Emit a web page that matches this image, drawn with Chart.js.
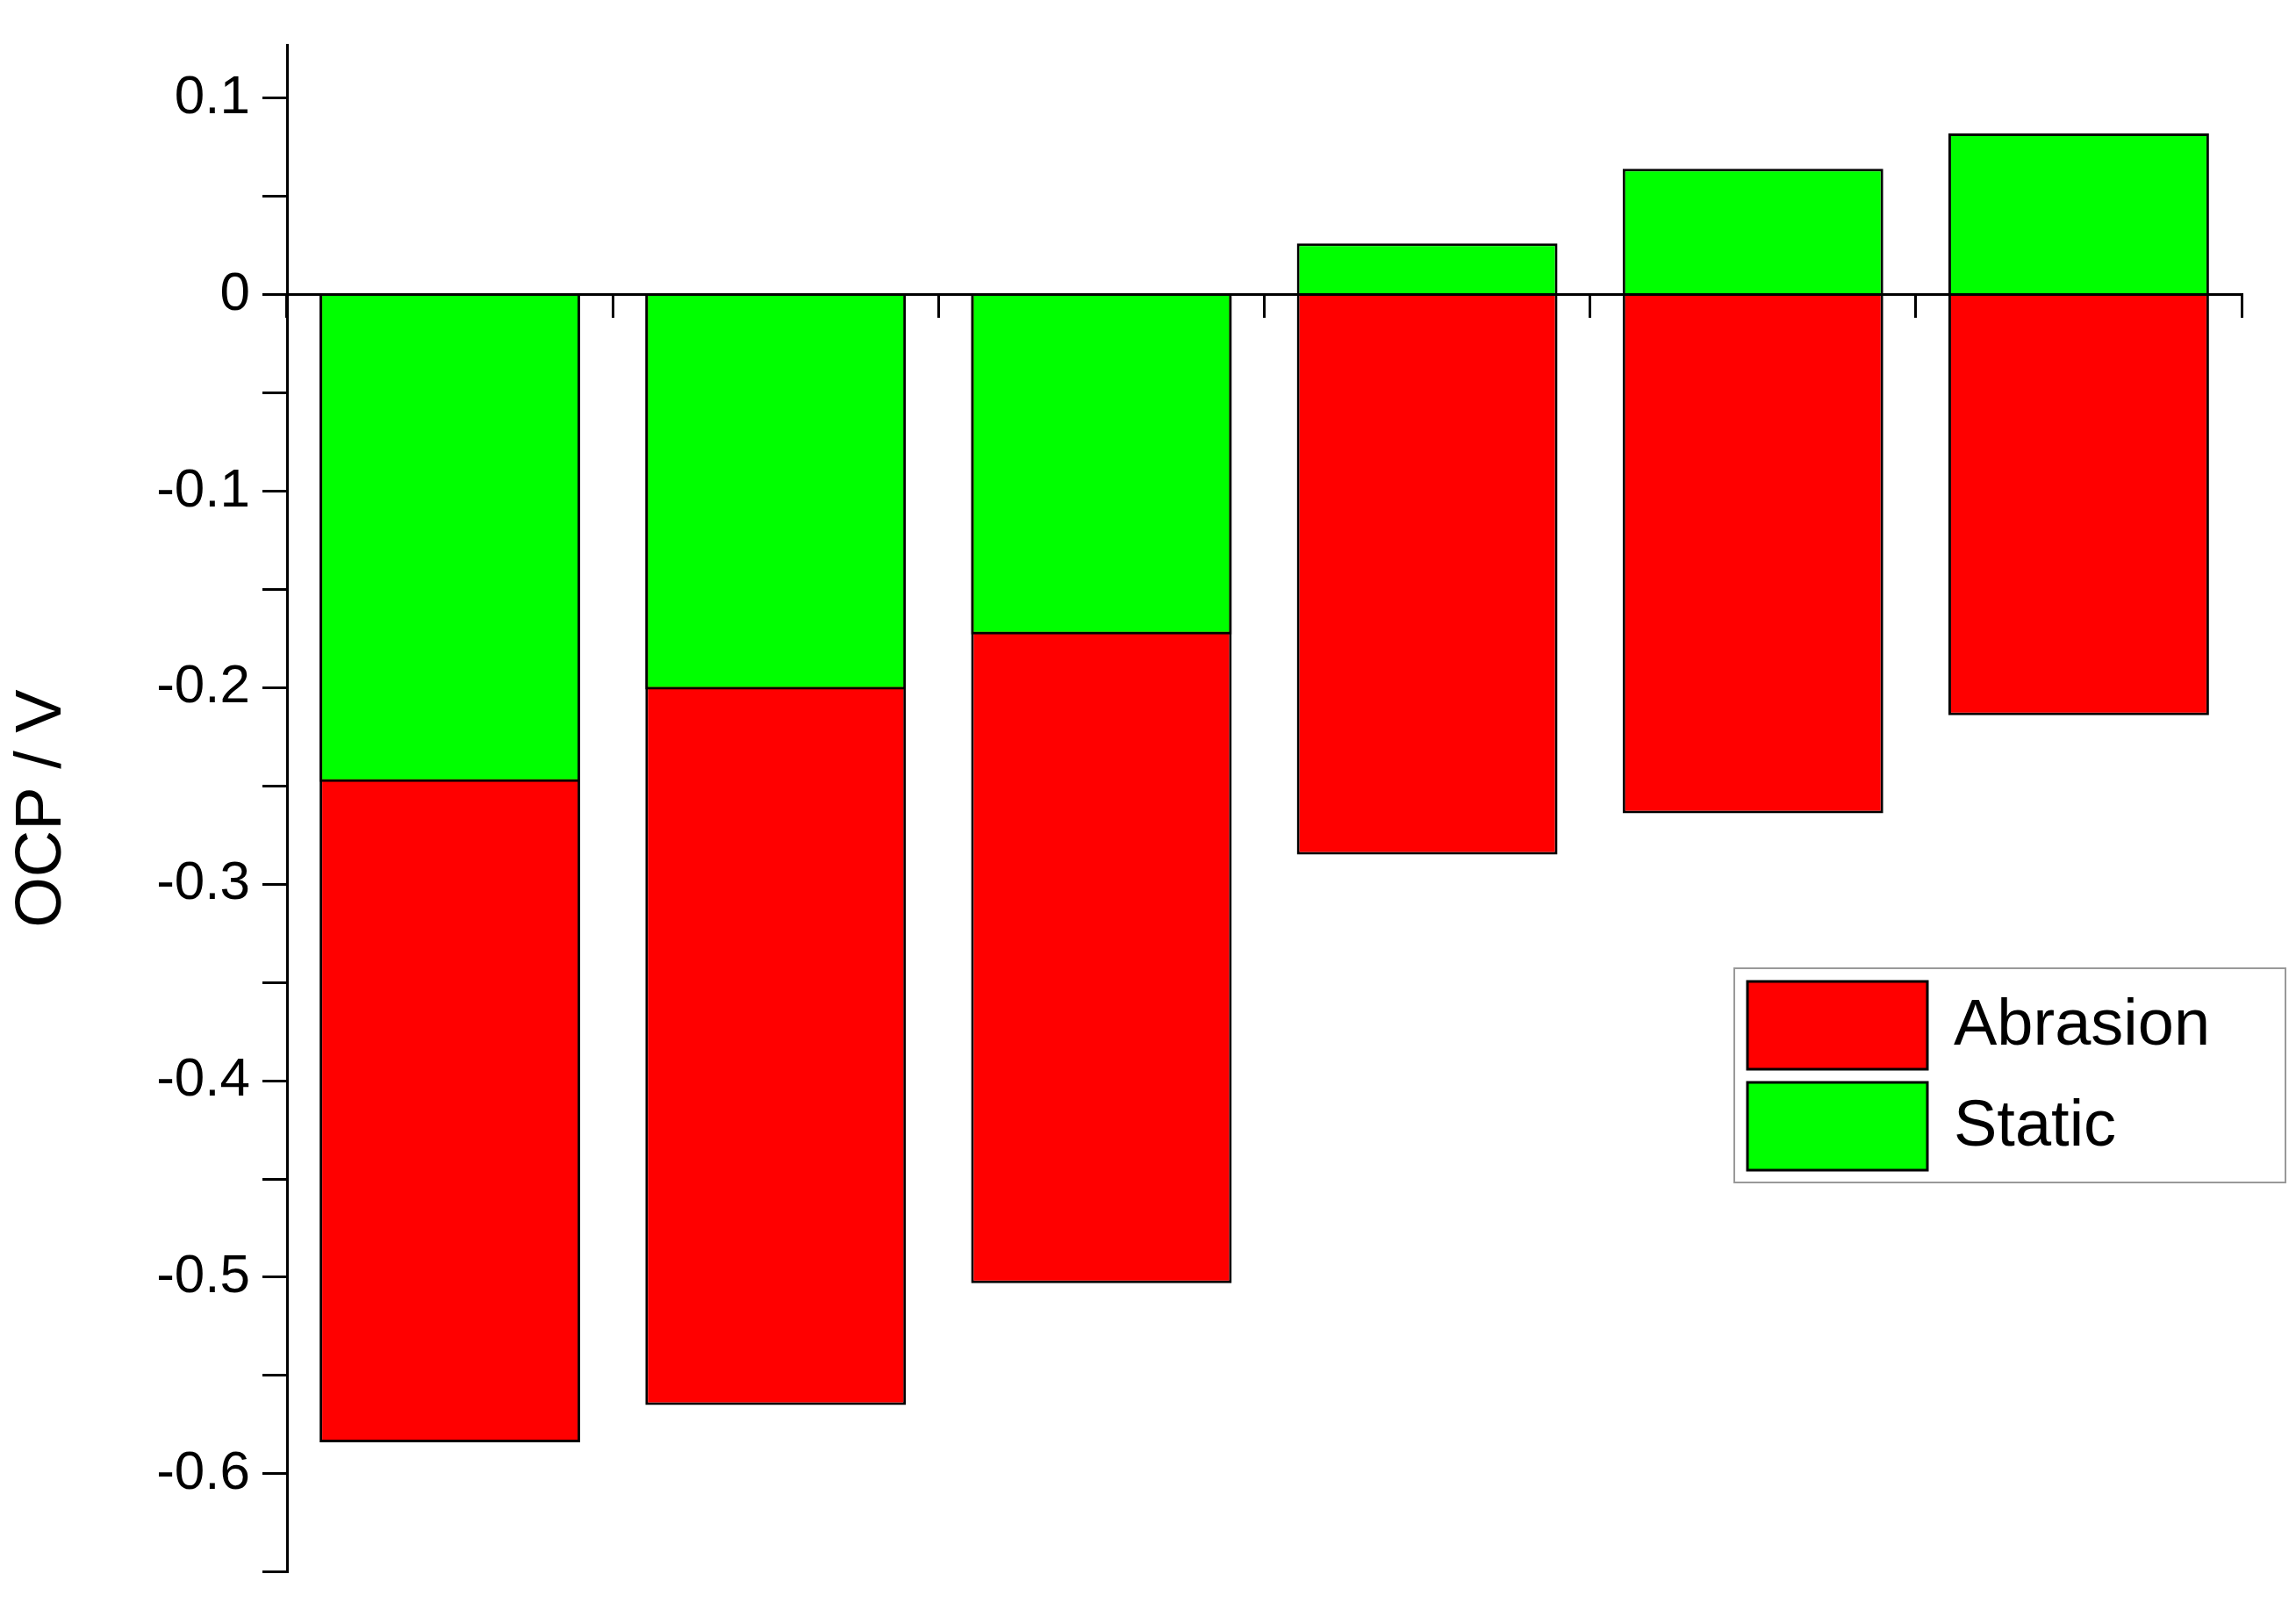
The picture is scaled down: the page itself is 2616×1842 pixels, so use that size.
<!DOCTYPE html>
<html>
<head>
<meta charset="utf-8">
<script src="https://cdn.jsdelivr.net/npm/chart.js@4.4.0/dist/chart.umd.min.js"></script>
<style>
  html, body { margin: 0; padding: 0; background: #fff; }
  #wrap { width: 2616px; height: 1842px; }
</style>
</head>
<body>
<div id="wrap"><canvas id="ocp"></canvas></div>
<script>
const samples = ["Co0Cr", "Co3Cr", "Co5Cr", "Ni0Cr", "Ni3Cr", "Ni5Cr"];
const abrasion = [-0.584, -0.565, -0.503, -0.285, -0.264, -0.214];
const staticOcp = [-0.248, -0.201, -0.173, 0.026, 0.064, 0.082];
const yLabels = [0.1, 0, -0.1, -0.2, -0.3, -0.4, -0.5, -0.6];

Chart.defaults.font.family = "'Liberation Sans', Arial, sans-serif";
Chart.defaults.color = "black";

// draws the boxed legend in the lower right, like the original figure
const boxLegend = {
  id: "boxLegend",
  afterDraw(chart) {
    const ctx = chart.ctx;
    const x = 1976, y = 1103, w = 628, h = 244;
    ctx.save();
    ctx.fillStyle = "#fff";
    ctx.fillRect(x, y, w, h);
    ctx.strokeStyle = "#999";
    ctx.lineWidth = 2;
    ctx.strokeRect(x, y, w, h);
    const items = [chart.data.datasets[1], chart.data.datasets[0]];
    ctx.font = "74px 'Liberation Sans', Arial, sans-serif";
    ctx.textBaseline = "middle";
    items.forEach((ds, i) => {
      const by = y + 15 + i * 115;
      ctx.fillStyle = ds.backgroundColor;
      ctx.fillRect(x + 15, by, 205, 100);
      ctx.strokeStyle = "black";
      ctx.lineWidth = 3;
      ctx.strokeRect(x + 15, by, 205, 100);
      ctx.fillStyle = "black";
      ctx.fillText(ds.label, x + 250, by + 52);
    });
    ctx.restore();
  }
};

new Chart(document.getElementById("ocp"), {
  type: "bar",
  data: {
    labels: samples,
    datasets: [
      {
        label: "Static",
        data: staticOcp,
        backgroundColor: "#00ff00",
        borderColor: "black",
        borderWidth: 3,
        grouped: false,
        order: 0,
        barPercentage: 0.8,
        categoryPercentage: 1
      },
      {
        label: "Abrasion",
        data: abrasion,
        backgroundColor: "#ff0000",
        borderColor: "black",
        borderWidth: 3,
        grouped: false,
        order: 1,
        barPercentage: 0.8,
        categoryPercentage: 1
      }
    ]
  },
  options: {
    responsive: true,
    maintainAspectRatio: false,
    animation: false,
    devicePixelRatio: 1,
    layout: { padding: { top: 20, right: 62, bottom: 22, left: 0 } },
    plugins: { legend: { display: false }, tooltip: { enabled: false } },
    scales: {
      x: {
        position: { y: 0 },
        afterFit(scale) { scale.height = 0; },
        grid: { drawOnChartArea: false, color: "black", lineWidth: 3, tickLength: 25 },
        border: { color: "black", width: 3 },
        ticks: { font: { size: 60 }, padding: 8 }
      },
      y: {
        min: -0.65,
        max: 0.127,
        afterFit(scale) { scale.width = 327; },
        afterBuildTicks(scale) {
          const t = [];
          for (let v = -0.65; v <= 0.1001; v += 0.05) t.push({ value: Math.round(v * 100) / 100 });
          scale.ticks = t;
        },
        grid: {
          drawOnChartArea: false,
          color: "black",
          lineWidth: 3,
          tickLength: 28
        },
        border: { color: "black", width: 3 },
        ticks: {
          font: { size: 62 },
          padding: 14,
          callback(v) {
            const r = Math.round(v * 10) / 10;
            return yLabels.some(l => Math.abs(l - v) < 1e-6) ? String(r === 0 ? 0 : r) : "";
          }
        },
        title: { display: true, text: "OCP / V", font: { size: 74 }, padding: { bottom: 20 } }
      }
    }
  },
  plugins: [boxLegend]
});
</script>
</body>
</html>
